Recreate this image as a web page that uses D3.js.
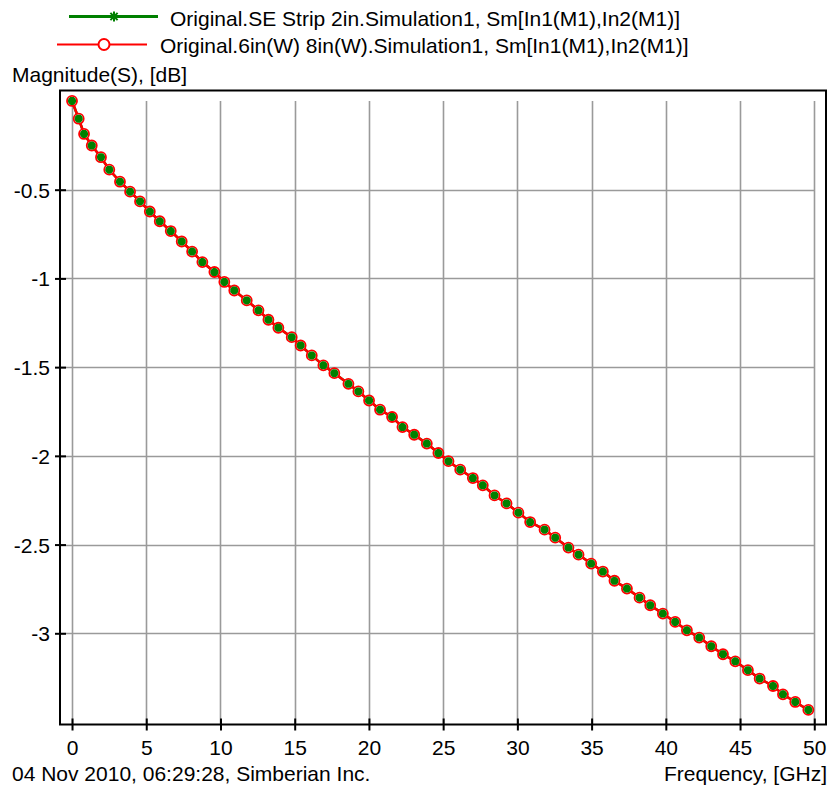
<!DOCTYPE html>
<html>
<head>
<meta charset="utf-8">
<script src="https://cdn.jsdelivr.net/npm/d3@7"></script>
<style>
  html, body { margin: 0; padding: 0; background: #ffffff; }
  svg { display: block; }
  text { font-family: "Liberation Sans", Arial, sans-serif; font-size: 21px; fill: #000; }
</style>
</head>
<body>
<svg id="chart" width="833" height="788"></svg>
<script>
// Marker frequencies (GHz) along the insertion-loss curve
const freqGHz = [
  0, 0.45, 0.81, 1.33, 1.95, 2.51, 3.23, 3.91, 4.58, 5.24,
  5.91, 6.65, 7.39, 8.09, 8.78, 9.59, 10.26, 10.93, 11.77, 12.56,
  13.23, 13.9, 14.8, 15.4, 16.15, 16.93, 17.67, 18.62, 19.29, 20.01,
  20.75, 21.56, 22.26, 23.05, 23.9, 24.68, 25.36, 26.15, 27.0, 27.67,
  28.46, 29.27, 30.07, 30.86, 31.83, 32.55, 33.44, 34.12, 34.97, 35.76,
  36.54, 37.38, 38.23, 38.95, 39.8, 40.63, 41.42, 42.25, 43.06, 43.85,
  44.68, 45.53, 46.32, 47.22, 47.89, 48.72, 49.6
];

// |S21| in dB, SE strip 2in model
const seStrip2in = [
  0, -0.10, -0.186, -0.251, -0.317, -0.387, -0.455, -0.511, -0.566, -0.623,
  -0.678, -0.733, -0.792, -0.849, -0.908, -0.964, -1.02, -1.068, -1.124, -1.18,
  -1.233, -1.278, -1.331, -1.378, -1.434, -1.49, -1.534, -1.594, -1.637, -1.688,
  -1.74, -1.781, -1.838, -1.881, -1.931, -1.984, -2.03, -2.078, -2.125, -2.166,
  -2.223, -2.268, -2.32, -2.373, -2.416, -2.461, -2.517, -2.557, -2.607, -2.652,
  -2.704, -2.748, -2.799, -2.842, -2.889, -2.936, -2.983, -3.024, -3.073, -3.118,
  -3.158, -3.208, -3.255, -3.297, -3.344, -3.387, -3.432
];

// |S21| in dB, 6in(W) 8in(W) model
const w6in8in = [
  0, -0.10, -0.186, -0.251, -0.317, -0.387, -0.455, -0.511, -0.566, -0.623,
  -0.678, -0.733, -0.792, -0.849, -0.908, -0.964, -1.02, -1.068, -1.124, -1.18,
  -1.233, -1.278, -1.331, -1.378, -1.434, -1.49, -1.534, -1.594, -1.637, -1.688,
  -1.74, -1.781, -1.838, -1.881, -1.931, -1.984, -2.03, -2.078, -2.125, -2.166,
  -2.223, -2.268, -2.32, -2.373, -2.416, -2.461, -2.517, -2.557, -2.607, -2.652,
  -2.704, -2.748, -2.799, -2.842, -2.889, -2.936, -2.983, -3.024, -3.073, -3.118,
  -3.158, -3.208, -3.255, -3.297, -3.344, -3.387, -3.432
];

const xTicks = [0, 5, 10, 15, 20, 25, 30, 35, 40, 45, 50];
const yTicks = [-0.5, -1, -1.5, -2, -2.5, -3];
const yTickLabels = ["-0.5", "-1", "-1.5", "-2", "-2.5", "-3"];

const legendNames = [
  "Original.SE Strip 2in.Simulation1, Sm[In1(M1),In2(M1)]",
  "Original.6in(W) 8in(W).Simulation1, Sm[In1(M1),In2(M1)]"
];
const yTitle = "Magnitude(S), [dB]";
const xTitle = "Frequency, [GHz]";
const stamp = "04 Nov 2010, 06:29:28, Simberian Inc.";

const GREEN = "#008000";
const RED = "#ff0000";
const GRID = "#9a9a9a";

const svg = d3.select("#chart");

// Plot frame
const frame = { left: 60, right: 826, top: 90.5, bottom: 724.5 };

const x = d3.scaleLinear().domain([-0.81, 50.79]).range([frame.left, frame.right]);
const y = d3.scaleLinear().domain([-3.514, 0.059]).range([frame.bottom, frame.top]);

// Grid: bounded by f = 0..50 GHz and 0 dB
const grid = svg.append("g").attr("stroke", GRID).attr("stroke-width", 1.6);
grid.selectAll("line.v").data(xTicks).join("line")
  .attr("class", "v")
  .attr("x1", d => Math.round(x(d)) + 0.5).attr("x2", d => Math.round(x(d)) + 0.5)
  .attr("y1", y(0)).attr("y2", frame.bottom);
grid.selectAll("line.h").data(yTicks).join("line")
  .attr("class", "h")
  .attr("x1", frame.left).attr("x2", x(50))
  .attr("y1", d => Math.round(y(d)) + 0.5).attr("y2", d => Math.round(y(d)) + 0.5);

// Frame box
svg.append("rect")
  .attr("x", frame.left).attr("y", frame.top)
  .attr("width", frame.right - frame.left).attr("height", frame.bottom - frame.top)
  .attr("fill", "none").attr("stroke", "#000").attr("stroke-width", 2);

// Axes with ticks crossing the frame
const xAxis = svg.append("g")
  .attr("transform", `translate(0,${frame.bottom})`)
  .call(d3.axisBottom(x).tickValues(xTicks).tickSizeOuter(0).tickFormat(d3.format("d")));
xAxis.select(".domain").remove();
xAxis.selectAll(".tick line").attr("y1", -6).attr("y2", 6).attr("stroke", "#000").attr("stroke-width", 2);
xAxis.selectAll(".tick text").attr("y", 30).attr("dy", null)
  .style("font-family", "Liberation Sans, Arial, sans-serif").style("font-size", "21px").attr("fill", "#000");

const yAxis = svg.append("g")
  .attr("transform", `translate(${frame.left},0)`)
  .call(d3.axisLeft(y).tickValues(yTicks).tickSizeOuter(0)
    .tickFormat((d, i) => yTickLabels[i]));
yAxis.select(".domain").remove();
yAxis.selectAll(".tick line").attr("x1", -5).attr("x2", 6).attr("stroke", "#000").attr("stroke-width", 2);
yAxis.selectAll(".tick text").attr("x", -10).attr("dy", "0.36em")
  .style("font-family", "Liberation Sans, Arial, sans-serif").style("font-size", "21px").attr("fill", "#000");

// Series
const ptsGreen = freqGHz.map((f, i) => [f, seStrip2in[i]]);
const ptsRed = freqGHz.map((f, i) => [f, w6in8in[i]]);
const line = d3.line().x(d => x(d[0])).y(d => y(d[1]));

svg.append("path").datum(ptsGreen).attr("d", line)
  .attr("fill", "none").attr("stroke", GREEN).attr("stroke-width", 2.5);
svg.append("path").datum(ptsRed).attr("d", line)
  .attr("fill", "none").attr("stroke", RED).attr("stroke-width", 2.5);

svg.append("g").selectAll("circle").data(ptsRed).join("circle")
  .attr("cx", d => x(d[0])).attr("cy", d => y(d[1])).attr("r", 5)
  .attr("fill", "#fff").attr("stroke", RED).attr("stroke-width", 1.8);

// Asterisk marker path
function star(cx, cy, r) {
  const k = r * 0.72;
  return `M${cx - r},${cy}L${cx + r},${cy}M${cx},${cy - r}L${cx},${cy + r}` +
         `M${cx - k},${cy - k}L${cx + k},${cy + k}M${cx - k},${cy + k}L${cx + k},${cy - k}`;
}
svg.append("g").selectAll("path").data(ptsGreen).join("path")
  .attr("d", d => star(x(d[0]), y(d[1]), 4))
  .attr("stroke", GREEN).attr("stroke-width", 2.8).attr("fill", "none");

// Legend
const leg = svg.append("g");
leg.append("line").attr("x1", 69).attr("x2", 158).attr("y1", 16.5).attr("y2", 16.5)
  .attr("stroke", GREEN).attr("stroke-width", 3);
leg.append("path").attr("d", star(114, 16.5, 5)).attr("stroke", GREEN).attr("stroke-width", 2);
leg.append("text").attr("x", 170).attr("y", 25.5).text(legendNames[0]);

leg.append("line").attr("x1", 57).attr("x2", 147).attr("y1", 44.5).attr("y2", 44.5)
  .attr("stroke", RED).attr("stroke-width", 2);
leg.append("circle").attr("cx", 104).attr("cy", 44.5).attr("r", 5.5)
  .attr("fill", "#fff").attr("stroke", RED).attr("stroke-width", 2);
leg.append("text").attr("x", 160).attr("y", 53).text(legendNames[1]);

// Titles and footer
svg.append("text").attr("x", 12).attr("y", 82).text(yTitle);
svg.append("text").attr("x", 827).attr("y", 781).attr("text-anchor", "end").text(xTitle);
svg.append("text").attr("x", 12).attr("y", 781).text(stamp);
</script>
</body>
</html>
